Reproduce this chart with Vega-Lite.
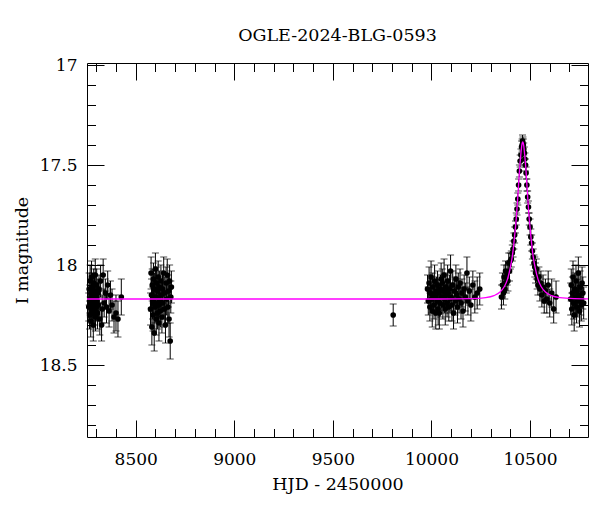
{
  "$schema": "https://vega.github.io/schema/vega-lite/v6.json",
  "width": 501,
  "height": 374,
  "autosize": {"type": "none"},
  "padding": {"left": 87, "top": 63, "right": 12, "bottom": 75},
  "background": "white",
  "title": {"text": "OGLE-2024-BLG-0593", "font": "DejaVu Serif", "fontSize": 17.5, "fontWeight": "normal", "color": "black", "anchor": "middle", "offset": 12},
  "config": {
    "view": {"stroke": "black", "strokeWidth": 1},
    "axis": {"grid": false, "domain": false, "tickColor": "black", "tickWidth": 1, "labelFont": "DejaVu Serif", "labelFontSize": 17, "labelColor": "black", "titleFont": "DejaVu Serif", "titleFontSize": 17.5, "titleFontWeight": "normal", "titleColor": "black"}
  },
  "datasets": {
    "obs": [
      {"t":8262,"m":18.21,"e":0.07},{"t":8264,"m":18.12,"e":0.08},{"t":8266,"m":18.25,"e":0.07},{"t":8267,"m":18.17,"e":0.07},
      {"t":8269,"m":18.08,"e":0.08},{"t":8270,"m":18.19,"e":0.07},{"t":8272,"m":18.28,"e":0.08},{"t":8273,"m":18.14,"e":0.07},
      {"t":8275,"m":18.22,"e":0.07},{"t":8276,"m":18.06,"e":0.08},{"t":8278,"m":18.18,"e":0.07},{"t":8279,"m":18.24,"e":0.07},
      {"t":8281,"m":18.11,"e":0.07},{"t":8282,"m":18.20,"e":0.08},{"t":8284,"m":18.15,"e":0.07},{"t":8285,"m":18.30,"e":0.08},
      {"t":8287,"m":18.09,"e":0.07},{"t":8288,"m":18.17,"e":0.07},{"t":8290,"m":18.23,"e":0.07},{"t":8291,"m":18.13,"e":0.08},
      {"t":8293,"m":18.19,"e":0.07},{"t":8295,"m":18.05,"e":0.08},{"t":8296,"m":18.26,"e":0.07},{"t":8298,"m":18.16,"e":0.07},
      {"t":8300,"m":18.21,"e":0.07},{"t":8302,"m":18.10,"e":0.08},{"t":8304,"m":18.18,"e":0.07},{"t":8306,"m":18.24,"e":0.08},
      {"t":8308,"m":18.14,"e":0.07},{"t":8311,"m":18.20,"e":0.07},{"t":8314,"m":18.12,"e":0.07},{"t":8318,"m":18.27,"e":0.08},
      {"t":8322,"m":18.08,"e":0.08},{"t":8327,"m":18.30,"e":0.08},{"t":8330,"m":18.22,"e":0.07},{"t":8335,"m":18.05,"e":0.08},
      {"t":8340,"m":18.19,"e":0.07},{"t":8346,"m":18.14,"e":0.07},{"t":8352,"m":18.21,"e":0.08},{"t":8358,"m":18.10,"e":0.07},
      {"t":8365,"m":18.23,"e":0.08},{"t":8372,"m":18.15,"e":0.07},{"t":8380,"m":18.20,"e":0.08},{"t":8390,"m":18.26,"e":0.08},
      {"t":8400,"m":18.24,"e":0.09},{"t":8410,"m":18.27,"e":0.09},{"t":8427,"m":18.16,"e":0.09},
      {"t":8575,"m":18.22,"e":0.08},{"t":8578,"m":18.04,"e":0.08},{"t":8580,"m":18.15,"e":0.08},{"t":8582,"m":18.31,"e":0.09},
      {"t":8584,"m":18.10,"e":0.08},{"t":8586,"m":18.19,"e":0.08},{"t":8588,"m":18.25,"e":0.08},{"t":8590,"m":18.07,"e":0.08},
      {"t":8592,"m":18.17,"e":0.08},{"t":8594,"m":18.34,"e":0.09},{"t":8596,"m":18.12,"e":0.08},{"t":8598,"m":18.21,"e":0.08},
      {"t":8600,"m":18.02,"e":0.08},{"t":8602,"m":18.16,"e":0.08},{"t":8604,"m":18.27,"e":0.08},{"t":8606,"m":18.09,"e":0.08},
      {"t":8608,"m":18.19,"e":0.08},{"t":8610,"m":18.24,"e":0.08},{"t":8612,"m":18.13,"e":0.08},{"t":8614,"m":18.06,"e":0.08},
      {"t":8616,"m":18.20,"e":0.08},{"t":8618,"m":18.29,"e":0.09},{"t":8620,"m":18.11,"e":0.08},{"t":8622,"m":18.18,"e":0.08},
      {"t":8625,"m":18.23,"e":0.08},{"t":8628,"m":18.08,"e":0.08},{"t":8630,"m":18.15,"e":0.08},{"t":8633,"m":18.26,"e":0.08},
      {"t":8636,"m":18.12,"e":0.08},{"t":8639,"m":18.19,"e":0.08},{"t":8642,"m":18.04,"e":0.08},{"t":8645,"m":18.22,"e":0.08},
      {"t":8648,"m":18.14,"e":0.08},{"t":8651,"m":18.30,"e":0.09},{"t":8654,"m":18.09,"e":0.08},{"t":8657,"m":18.17,"e":0.08},
      {"t":8660,"m":18.05,"e":0.08},{"t":8663,"m":18.21,"e":0.08},{"t":8666,"m":18.13,"e":0.08},{"t":8669,"m":18.27,"e":0.09},
      {"t":8672,"m":18.08,"e":0.08},{"t":8675,"m":18.38,"e":0.09},{"t":8678,"m":18.16,"e":0.08},{"t":8681,"m":18.11,"e":0.08},
      {"t":9806,"m":18.25,"e":0.055},
      {"t":9980,"m":18.12,"e":0.07},{"t":9984,"m":18.18,"e":0.07},{"t":9988,"m":18.09,"e":0.08},{"t":9992,"m":18.21,"e":0.07},
      {"t":9995,"m":18.14,"e":0.07},{"t":9998,"m":18.06,"e":0.08},{"t":10001,"m":18.17,"e":0.07},{"t":10004,"m":18.23,"e":0.08},
      {"t":10007,"m":18.11,"e":0.07},{"t":10010,"m":18.15,"e":0.07},{"t":10013,"m":18.20,"e":0.07},{"t":10016,"m":18.08,"e":0.08},
      {"t":10019,"m":18.16,"e":0.07},{"t":10022,"m":18.24,"e":0.08},{"t":10025,"m":18.13,"e":0.07},{"t":10028,"m":18.18,"e":0.07},
      {"t":10031,"m":18.10,"e":0.07},{"t":10034,"m":18.22,"e":0.08},{"t":10037,"m":18.14,"e":0.07},{"t":10040,"m":18.24,"e":0.08},
      {"t":10043,"m":18.19,"e":0.07},{"t":10046,"m":18.12,"e":0.07},{"t":10049,"m":18.07,"e":0.08},{"t":10052,"m":18.16,"e":0.07},
      {"t":10055,"m":18.09,"e":0.07},{"t":10058,"m":18.20,"e":0.07},{"t":10061,"m":18.13,"e":0.07},{"t":10064,"m":18.05,"e":0.08},
      {"t":10067,"m":18.17,"e":0.07},{"t":10070,"m":18.22,"e":0.08},{"t":10073,"m":18.11,"e":0.07},{"t":10076,"m":18.15,"e":0.07},
      {"t":10079,"m":18.19,"e":0.07},{"t":10082,"m":18.08,"e":0.08},{"t":10085,"m":18.14,"e":0.07},{"t":10088,"m":18.21,"e":0.07},
      {"t":10091,"m":18.12,"e":0.07},{"t":10094,"m":18.17,"e":0.07},{"t":10097,"m":18.03,"e":0.08},{"t":10100,"m":18.16,"e":0.07},
      {"t":10104,"m":18.20,"e":0.08},{"t":10108,"m":18.10,"e":0.07},{"t":10112,"m":18.24,"e":0.08},{"t":10116,"m":18.13,"e":0.07},
      {"t":10120,"m":18.18,"e":0.07},{"t":10124,"m":18.07,"e":0.07},{"t":10128,"m":18.15,"e":0.07},{"t":10132,"m":18.21,"e":0.08},
      {"t":10136,"m":18.11,"e":0.07},{"t":10140,"m":18.17,"e":0.07},{"t":10145,"m":18.09,"e":0.07},{"t":10150,"m":18.19,"e":0.08},
      {"t":10155,"m":18.14,"e":0.07},{"t":10160,"m":18.23,"e":0.08},{"t":10166,"m":18.12,"e":0.07},{"t":10172,"m":18.16,"e":0.07},
      {"t":10180,"m":18.04,"e":0.08},{"t":10185,"m":18.18,"e":0.07},{"t":10192,"m":18.13,"e":0.07},{"t":10200,"m":18.20,"e":0.08},
      {"t":10210,"m":18.10,"e":0.07},{"t":10220,"m":18.16,"e":0.08},{"t":10232,"m":18.14,"e":0.08},{"t":10245,"m":18.12,"e":0.08},
      {"t":10355,"m":18.16,"e":0.06},{"t":10360,"m":18.10,"e":0.06},{"t":10365,"m":18.14,"e":0.06},{"t":10368,"m":18.06,"e":0.06},
      {"t":10372,"m":18.12,"e":0.05},{"t":10376,"m":18.03,"e":0.05},{"t":10380,"m":18.09,"e":0.05},{"t":10384,"m":18.05,"e":0.05},
      {"t":10388,"m":18.08,"e":0.05},{"t":10392,"m":17.99,"e":0.05},{"t":10396,"m":18.03,"e":0.05},{"t":10400,"m":17.98,"e":0.04},
      {"t":10405,"m":17.97,"e":0.04},{"t":10410,"m":17.94,"e":0.04},{"t":10414,"m":17.92,"e":0.04},{"t":10418,"m":17.88,"e":0.04},
      {"t":10422,"m":17.85,"e":0.04},{"t":10426,"m":17.81,"e":0.03},{"t":10430,"m":17.77,"e":0.03},{"t":10434,"m":17.72,"e":0.03},
      {"t":10438,"m":17.67,"e":0.03},{"t":10442,"m":17.60,"e":0.03},{"t":10446,"m":17.53,"e":0.03},{"t":10450,"m":17.48,"e":0.03},
      {"t":10454,"m":17.45,"e":0.03},{"t":10457,"m":17.41,"e":0.03},{"t":10460,"m":17.40,"e":0.03},{"t":10462,"m":17.38,"e":0.03},
      {"t":10464,"m":17.39,"e":0.03},{"t":10466,"m":17.40,"e":0.03},{"t":10468,"m":17.42,"e":0.03},{"t":10471,"m":17.44,"e":0.03},
      {"t":10474,"m":17.47,"e":0.03},{"t":10477,"m":17.50,"e":0.03},{"t":10480,"m":17.54,"e":0.03},{"t":10484,"m":17.60,"e":0.03},
      {"t":10488,"m":17.66,"e":0.03},{"t":10492,"m":17.71,"e":0.03},{"t":10496,"m":17.77,"e":0.03},{"t":10500,"m":17.81,"e":0.04},
      {"t":10504,"m":17.86,"e":0.04},{"t":10508,"m":17.89,"e":0.04},{"t":10512,"m":17.93,"e":0.04},{"t":10516,"m":17.96,"e":0.04},
      {"t":10520,"m":17.99,"e":0.04},{"t":10524,"m":18.01,"e":0.05},{"t":10528,"m":18.04,"e":0.05},{"t":10532,"m":18.02,"e":0.05},
      {"t":10536,"m":18.07,"e":0.05},{"t":10540,"m":18.10,"e":0.05},{"t":10545,"m":18.06,"e":0.05},{"t":10550,"m":18.12,"e":0.06},
      {"t":10555,"m":18.09,"e":0.06},{"t":10560,"m":18.15,"e":0.06},{"t":10566,"m":18.11,"e":0.06},{"t":10572,"m":18.18,"e":0.06},
      {"t":10578,"m":18.13,"e":0.06},{"t":10585,"m":18.17,"e":0.07},{"t":10592,"m":18.10,"e":0.07},{"t":10600,"m":18.19,"e":0.07},
      {"t":10610,"m":18.14,"e":0.07},{"t":10620,"m":18.22,"e":0.07},{"t":10632,"m":18.16,"e":0.08},
      {"t":10706,"m":18.17,"e":0.08},{"t":10709,"m":18.10,"e":0.08},{"t":10712,"m":18.22,"e":0.08},{"t":10715,"m":18.14,"e":0.08},
      {"t":10718,"m":18.06,"e":0.08},{"t":10721,"m":18.19,"e":0.08},{"t":10724,"m":18.25,"e":0.08},{"t":10727,"m":18.12,"e":0.08},
      {"t":10730,"m":18.16,"e":0.08},{"t":10733,"m":18.08,"e":0.08},{"t":10736,"m":18.21,"e":0.08},{"t":10739,"m":18.13,"e":0.08},
      {"t":10742,"m":18.18,"e":0.08},{"t":10745,"m":18.04,"e":0.08},{"t":10748,"m":18.15,"e":0.08},{"t":10751,"m":18.23,"e":0.08},
      {"t":10754,"m":18.11,"e":0.08},{"t":10757,"m":18.17,"e":0.08},{"t":10760,"m":18.20,"e":0.08},{"t":10764,"m":18.09,"e":0.08},
      {"t":10768,"m":18.14,"e":0.08},{"t":10772,"m":18.19,"e":0.08}
    ],
    "model": [
      {"t":8253,"m":18.170},{"t":9000,"m":18.170},{"t":9800,"m":18.170},{"t":10046,"m":18.170},{"t":10202,"m":18.168},
      {"t":10275,"m":18.163},{"t":10317,"m":18.153},{"t":10348,"m":18.135},{"t":10369,"m":18.109},{"t":10385,"m":18.073},
      {"t":10400,"m":18.013},{"t":10411,"m":17.951},{"t":10421,"m":17.863},{"t":10426.5,"m":17.808},{"t":10432,"m":17.744},
      {"t":10437,"m":17.673},{"t":10442,"m":17.597},{"t":10447,"m":17.520},{"t":10453,"m":17.451},{"t":10458,"m":17.403},
      {"t":10463,"m":17.385},{"t":10468,"m":17.403},{"t":10473,"m":17.451},{"t":10479,"m":17.520},{"t":10484,"m":17.597},
      {"t":10489,"m":17.673},{"t":10494,"m":17.744},{"t":10499.5,"m":17.808},{"t":10505,"m":17.863},{"t":10515,"m":17.951},
      {"t":10526,"m":18.013},{"t":10541,"m":18.073},{"t":10557,"m":18.109},{"t":10578,"m":18.135},{"t":10609,"m":18.153},
      {"t":10651,"m":18.163},{"t":10724,"m":18.168},{"t":10794,"m":18.169}
    ]
  },
  "resolve": {"axis": {"x": "independent", "y": "independent"}},
  "layer": [
    {
      "data": {"name": "obs"},
      "mark": {"type": "errorbar", "ticks": true, "size": 7, "thickness": 1, "color": "black"},
      "encoding": {
        "x": {"field": "t", "type": "quantitative", "scale": {"domain": [8253, 10794], "nice": false, "zero": false}, "axis": null},
        "y": {"field": "m", "type": "quantitative", "scale": {"domain": [16.99, 18.86], "reverse": true, "nice": false, "zero": false}, "axis": null},
        "yError": {"field": "e"}
      }
    },
    {
      "data": {"name": "obs"},
      "mark": {"type": "point", "filled": true, "size": 32, "color": "black", "opacity": 1},
      "encoding": {
        "x": {"field": "t", "type": "quantitative", "scale": {"domain": [8253, 10794], "nice": false, "zero": false},
              "axis": {"orient": "bottom", "values": [8500, 9000, 9500, 10000, 10500], "format": "d", "ticks": false, "labelPadding": 14, "title": "HJD - 2450000", "titlePadding": 8}},
        "y": {"field": "m", "type": "quantitative", "scale": {"domain": [16.99, 18.86], "reverse": true, "nice": false, "zero": false},
              "axis": {"orient": "left", "values": [17, 17.5, 18, 18.5], "format": ".1~f", "ticks": false, "labelPadding": 10, "title": "I magnitude", "titlePadding": 8}}
      }
    },
    {
      "data": {"name": "model"},
      "mark": {"type": "line", "color": "#ff00ff", "strokeWidth": 1.3, "interpolate": "monotone"},
      "encoding": {
        "x": {"field": "t", "type": "quantitative", "scale": {"domain": [8253, 10794], "nice": false, "zero": false},
              "axis": {"orient": "top", "values": [8500, 9000, 9500, 10000, 10500], "tickSize": -17, "labels": false, "title": null}},
        "y": {"field": "m", "type": "quantitative", "scale": {"domain": [16.99, 18.86], "reverse": true, "nice": false, "zero": false},
              "axis": {"orient": "right", "values": [17, 17.5, 18, 18.5], "tickSize": -17, "labels": false, "title": null}}
      }
    },
    {
      "data": {"name": "model"},
      "mark": {"type": "point", "opacity": 0},
      "encoding": {
        "x": {"field": "t", "type": "quantitative", "scale": {"domain": [8253, 10794], "nice": false, "zero": false},
              "axis": {"orient": "bottom", "values": [8500, 9000, 9500, 10000, 10500], "tickSize": -17, "labels": false, "title": null}},
        "y": {"field": "m", "type": "quantitative", "scale": {"domain": [16.99, 18.86], "reverse": true, "nice": false, "zero": false},
              "axis": {"orient": "left", "values": [17, 17.5, 18, 18.5], "tickSize": -17, "labels": false, "title": null}}
      }
    },
    {
      "data": {"name": "model"},
      "mark": {"type": "point", "opacity": 0},
      "encoding": {
        "x": {"field": "t", "type": "quantitative", "scale": {"domain": [8253, 10794], "nice": false, "zero": false},
              "axis": {"orient": "bottom", "values": [8300, 8400, 8600, 8700, 8800, 8900, 9100, 9200, 9300, 9400, 9600, 9700, 9800, 9900, 10100, 10200, 10300, 10400, 10600, 10700], "tickSize": -8.5, "labels": false, "title": null}},
        "y": {"field": "m", "type": "quantitative", "scale": {"domain": [16.99, 18.86], "reverse": true, "nice": false, "zero": false},
              "axis": {"orient": "left", "values": [17.1, 17.2, 17.3, 17.4, 17.6, 17.7, 17.8, 17.9, 18.1, 18.2, 18.3, 18.4, 18.6, 18.7, 18.8], "tickSize": -8.5, "labels": false, "title": null}}
      }
    },
    {
      "data": {"name": "model"},
      "mark": {"type": "point", "opacity": 0},
      "encoding": {
        "x": {"field": "t", "type": "quantitative", "scale": {"domain": [8253, 10794], "nice": false, "zero": false},
              "axis": {"orient": "top", "values": [8300, 8400, 8600, 8700, 8800, 8900, 9100, 9200, 9300, 9400, 9600, 9700, 9800, 9900, 10100, 10200, 10300, 10400, 10600, 10700], "tickSize": -8.5, "labels": false, "title": null}},
        "y": {"field": "m", "type": "quantitative", "scale": {"domain": [16.99, 18.86], "reverse": true, "nice": false, "zero": false},
              "axis": {"orient": "right", "values": [17.1, 17.2, 17.3, 17.4, 17.6, 17.7, 17.8, 17.9, 18.1, 18.2, 18.3, 18.4, 18.6, 18.7, 18.8], "tickSize": -8.5, "labels": false, "title": null}}
      }
    }
  ]
}
